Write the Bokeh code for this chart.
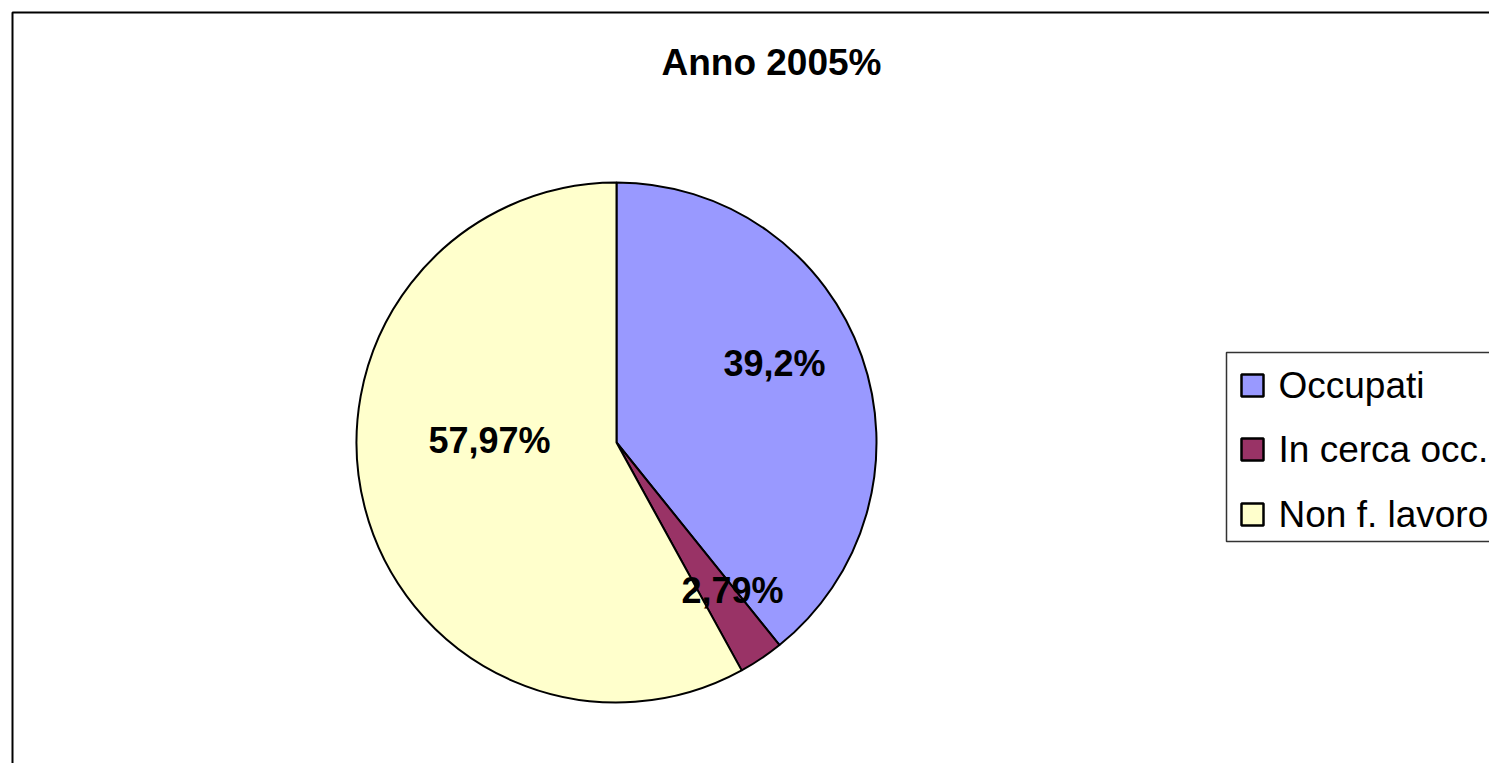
import math
from bokeh.plotting import figure
from bokeh.models import Range1d
from bokeh.core.properties import value
from bokeh.embed import file_html
from bokeh.resources import INLINE

# ---- data ----
title = "Anno 2005%"
categories = ["Occupati", "In cerca occ.", "Non f. lavoro"]
shares = [39.2, 2.79, 57.97]
labels = ["39,2%", "2,79%", "57,97%"]
colors = ["#9999FF", "#993366", "#FFFFCC"]

# ---- layout (screen pixels) ----
W, H = 1489, 763
def X(px):
    return px
def Y(py):
    return H - py

cx, cy, R = 616, 442, 260
# label anchors as offsets from pie centre (layout)
label_off = [(158, -79), (116, 148), (-127, -2)]

p = figure(width=W, height=H, output_backend="svg", toolbar_location=None,
           x_range=Range1d(0, W), y_range=Range1d(0, H),
           min_border=0, outline_line_color=None)
p.axis.visible = False
p.grid.visible = False

# chart area border (continues past the right and bottom edges)
p.line(x=[X(12), X(12), X(1520)], y=[Y(800), Y(12), Y(12)],
       line_color="#000000", line_width=2)

# title
p.text(x=[X(771)], y=[Y(62)], text=[title], text_align="center",
       text_baseline="middle", text_font=value("Liberation Sans"),
       text_font_style="bold", text_font_size="37px", text_color="#000000")

# pie
total = sum(shares)
cum = 0.0
starts, ends = [], []
for s in shares:
    starts.append(math.pi / 2 - 2 * math.pi * cum / total)
    cum += s
    ends.append(math.pi / 2 - 2 * math.pi * cum / total)
p.wedge(x=[X(cx)] * 3, y=[Y(cy)] * 3, radius=R, start_angle=starts,
        end_angle=ends, direction="clock", fill_color=colors,
        line_color="#000000", line_width=2)

# slice labels
p.text(x=[X(cx + dx) for dx, dy in label_off],
       y=[Y(cy + dy) for dx, dy in label_off], text=labels,
       text_align="center", text_baseline="middle",
       text_font=value("Liberation Sans"), text_font_style="bold",
       text_font_size="36px", text_color="#000000")

# legend box
p.quad(left=[X(1226)], right=[X(1530)], top=[Y(352)], bottom=[Y(541)],
       fill_color="#FFFFFF", line_color="#333333", line_width=1.5)
ly = [385, 449, 514]
p.rect(x=[X(1252)] * 3, y=[Y(v) for v in ly], width=22, height=22,
       fill_color=colors, line_color="#000000", line_width=2.5)
p.text(x=[X(1278)] * 3, y=[Y(v) for v in ly], text=categories,
       text_align="left", text_baseline="middle",
       text_font=value("Liberation Sans"), text_font_size="37px",
       text_color="#000000")

open("out.html", "w").write(file_html(p, INLINE))
